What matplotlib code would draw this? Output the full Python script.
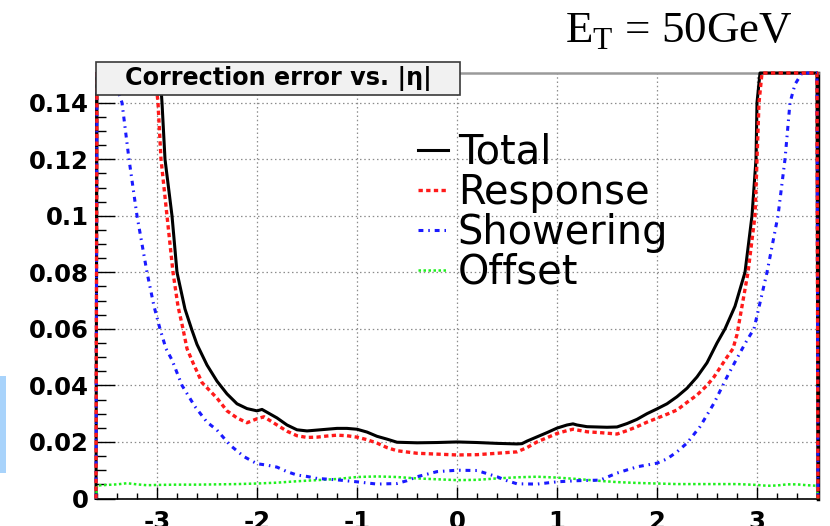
import numpy as np
import matplotlib
matplotlib.use("Agg")
import matplotlib.pyplot as plt
from matplotlib.patches import Rectangle
from matplotlib.ticker import MultipleLocator

plt.rcParams["font.family"] = ["DejaVu Sans"]

# ---------------- data ----------------
eta_total = [-3.61, -3.60, -3.0, -2.97, -2.95, -2.92, -2.85, -2.80, -2.72, -2.65, -2.6, -2.5,
             -2.4, -2.3, -2.2, -2.1, -2.0, -1.95, -1.9, -1.8, -1.7, -1.6, -1.5, -1.4, -1.3,
             -1.2, -1.1, -1.0, -0.9, -0.8, -0.7, -0.6, -0.5, -0.4, -0.2, 0.0, 0.2, 0.4, 0.6,
             0.65, 0.7, 0.8, 0.9, 1.0, 1.1, 1.16, 1.2, 1.3, 1.4, 1.5, 1.6, 1.7, 1.8, 1.9,
             2.0, 2.1, 2.2, 2.3, 2.4, 2.5, 2.6, 2.68, 2.78, 2.88, 2.95, 2.99, 3.0, 3.03,
             3.60, 3.61]
total = [0.0, 0.30, 0.20, 0.16, 0.14, 0.12, 0.10, 0.08, 0.067, 0.0595, 0.0545, 0.0472,
         0.0415, 0.037, 0.0335, 0.0318, 0.031, 0.0315, 0.0305, 0.0285, 0.026, 0.0243, 0.0239,
         0.0242, 0.0245, 0.0248, 0.0248, 0.0245, 0.0235, 0.022, 0.021, 0.0199, 0.0198,
         0.0197, 0.0198, 0.0200, 0.0198, 0.0195, 0.0193, 0.0194, 0.0203, 0.0218, 0.0233,
         0.0249, 0.026, 0.0264, 0.026, 0.0254, 0.0253, 0.0252, 0.0253, 0.0265, 0.028,
         0.030, 0.0317, 0.0335, 0.036, 0.039, 0.043, 0.048, 0.055, 0.060, 0.068, 0.080,
         0.100, 0.120, 0.140, 0.16, 0.30, 0.0]

eta_resp = [-3.61, -3.60, -3.02, -2.99, -2.96, -2.90, -2.84, -2.79, -2.74, -2.70, -2.64,
            -2.55, -2.4, -2.3, -2.2, -2.1, -2.0, -1.93, -1.8, -1.7, -1.6, -1.5, -1.4, -1.3,
            -1.2, -1.1, -1.0, -0.9, -0.8, -0.7, -0.6, -0.4, -0.2, 0.0, 0.2, 0.4, 0.6, 0.7,
            0.8, 0.9, 1.0, 1.1, 1.16, 1.3, 1.43, 1.6, 1.7, 1.8, 1.9, 2.0, 2.1, 2.2, 2.3,
            2.4, 2.5, 2.57, 2.7, 2.76, 2.80, 2.85, 2.91, 2.98, 3.0, 3.02, 3.05, 3.60, 3.61]
response = [0.0, 0.30, 0.16, 0.14, 0.12, 0.10, 0.08, 0.068, 0.060, 0.053, 0.048, 0.041,
            0.0355, 0.031, 0.0285, 0.0268, 0.0282, 0.0289, 0.026, 0.0238, 0.0222, 0.0216,
            0.0217, 0.0221, 0.0224, 0.0222, 0.0217, 0.0208, 0.0196, 0.018, 0.0169, 0.016,
            0.0157, 0.0154, 0.0155, 0.016, 0.0165, 0.018, 0.020, 0.0215, 0.023, 0.024,
            0.0245, 0.0236, 0.0233, 0.0228, 0.024, 0.0254, 0.027, 0.0284, 0.0298, 0.0313,
            0.034, 0.0366, 0.040, 0.043, 0.050, 0.053, 0.058, 0.068, 0.08, 0.10, 0.12,
            0.14, 0.16, 0.30, 0.0]

eta_show = [-3.61, -3.60, -3.45, -3.35, -3.28, -3.20, -3.10, -3.03, -2.97, -2.91, -2.85,
            -2.75, -2.62, -2.5, -2.4, -2.27, -2.13, -2.0, -1.9, -1.8, -1.7, -1.6, -1.5,
            -1.4, -1.2, -1.0, -0.8, -0.6, -0.5, -0.4, -0.2, 0.0, 0.2, 0.4, 0.5, 0.6, 0.8,
            1.0, 1.2, 1.43, 1.6, 1.8, 2.0, 2.1, 2.2, 2.3, 2.43, 2.57, 2.7, 2.8, 2.9, 2.97,
            3.10, 3.21, 3.28, 3.33, 3.38, 3.45, 3.60, 3.61]
showering = [0.0, 0.25, 0.16, 0.14, 0.12, 0.10, 0.08, 0.068, 0.060, 0.053, 0.049, 0.040,
             0.0325, 0.027, 0.0242, 0.0189, 0.0148, 0.0123, 0.0118, 0.0111, 0.0095, 0.0083,
             0.0078, 0.0071, 0.0066, 0.0059, 0.0051, 0.0053, 0.0063, 0.0077, 0.0095, 0.0100,
             0.0099, 0.0077, 0.0063, 0.0052, 0.0051, 0.0059, 0.0063, 0.0065, 0.009, 0.0112,
             0.0125, 0.014, 0.0165, 0.0196, 0.0254, 0.0337, 0.043, 0.0496, 0.056, 0.060,
             0.08, 0.10, 0.12, 0.14, 0.1465, 0.16, 0.25, 0.0]

eta_off = [-3.61, -3.6, -3.5, -3.4, -3.3, -3.2, -3.1, -3.0, -2.8, -2.6, -2.4, -2.2, -2.0,
           -1.8, -1.6, -1.4, -1.2, -1.0, -0.8, -0.6, -0.4, -0.2, 0.0, 0.2, 0.4, 0.6, 0.8,
           1.0, 1.2, 1.4, 1.6, 1.8, 2.0, 2.2, 2.4, 2.6, 2.8, 3.0, 3.1, 3.2, 3.3, 3.4, 3.5,
           3.6, 3.61]
offset = [0.0, 0.0046, 0.0048, 0.0050, 0.0054, 0.0050, 0.0047, 0.0048, 0.0049, 0.0049,
          0.0050, 0.0051, 0.0053, 0.0056, 0.0061, 0.0065, 0.0069, 0.0076, 0.0078, 0.0076,
          0.0071, 0.0068, 0.0065, 0.0066, 0.0071, 0.0075, 0.0077, 0.0074, 0.0069, 0.0063,
          0.0058, 0.0055, 0.0053, 0.0051, 0.0051, 0.0051, 0.0051, 0.0048, 0.0045, 0.0046,
          0.0050, 0.0050, 0.0047, 0.0045, 0.0]

labels = ["Total", "Response", "Showering", "Offset"]
title = "Correction error vs. |η|"
energy_label = r"E$_\mathregular{T}$ = 50GeV"
xticks = [-3, -2, -1, 0, 1, 2, 3]
yticks = [0, 0.02, 0.04, 0.06, 0.08, 0.1, 0.12, 0.14]
ytick_labels = ["0", "0.02", "0.04", "0.06", "0.08", "0.1", "0.12", "0.14"]

XMIN, XMAX = -3.61, 3.61
YMIN, YMAX = 0.0, 0.1505

# ---------------- figure ----------------
fig = plt.figure(figsize=(8.30, 5.26), dpi=100)
ax = fig.add_axes([96 / 830, 27.5 / 526, 722 / 830, 425.5 / 526])
ax.set_xlim(XMIN, XMAX)
ax.set_ylim(YMIN, YMAX)

def clip(v):
    return np.minimum(np.asarray(v, dtype=float), YMAX)

l_tot, = ax.plot(eta_total, clip(total), color="black", lw=2.2, clip_on=False,
                 solid_joinstyle="round", zorder=3)
l_off, = ax.plot(eta_off, clip(offset), color="#1ef01e", lw=1.8, clip_on=False,
                 dashes=(1.0, 1.0), zorder=3.5)
l_show, = ax.plot(eta_show, clip(showering), color="#1a1aff", lw=2.2, clip_on=False,
                  dashes=(1.6, 1.6, 0.5, 1.6), zorder=4)
l_resp, = ax.plot(eta_resp, clip(response), color="#ff1a1a", lw=2.4, clip_on=False,
                  dashes=(1.3, 1.0), zorder=5)

# ticks and grid
ax.set_xticks(xticks)
ax.set_xticklabels([str(t) for t in xticks], fontweight="bold")
ax.set_yticks(yticks)
ax.set_yticklabels(ytick_labels, fontweight="bold")
ax.xaxis.set_minor_locator(MultipleLocator(0.2))
ax.yaxis.set_minor_locator(MultipleLocator(0.005))
ax.tick_params(axis="both", which="major", labelsize=17.6)
ax.tick_params(axis="x", which="major", direction="in", length=9, width=1.0, pad=8.0,
               top=False)
ax.tick_params(axis="x", which="minor", direction="in", length=4.5, width=1.0, top=False)
ax.tick_params(axis="y", which="major", direction="in", length=14, width=1.0, pad=5,
               right=False)
ax.tick_params(axis="y", which="minor", direction="in", length=7, width=1.0, right=False)

ax.grid(True, which="major", color="#8c8c8c", lw=0.9, dashes=(1.2, 2.2))
ax.set_axisbelow(True)

for side in ["left", "bottom"]:
    ax.spines[side].set_color("black")
    ax.spines[side].set_linewidth(1.2)
ax.spines["right"].set_color("black")
ax.spines["right"].set_linewidth(2.5)
ax.spines["top"].set_color("#9a9a9a")
ax.spines["top"].set_linewidth(1.8)

# legend
leg = fig.legend([l_tot, l_resp, l_show, l_off], labels, loc="upper left",
                 bbox_to_anchor=(418 / 830, (526 - 133) / 526), frameon=False,
                 borderpad=0, borderaxespad=0, handlelength=0.75, handletextpad=0.25,
                 labelspacing=0.0, prop={"family": "DejaVu Sans", "size": 28.7})

# title box
fig.patches.append(Rectangle((96 / 830, (526 - 95) / 526), 364 / 830, 33 / 526,
                             transform=fig.transFigure, facecolor="#f1f1f1",
                             edgecolor="#3a3a3a", lw=1.2, zorder=5))
fig.text(278 / 830, (526 - 78.5) / 526, title, ha="center", va="center",
         family=["DejaVu Sans"], weight="bold", fontsize=17.2, zorder=6)

# energy label
fig.text(565 / 830, (526 - 43) / 526, energy_label, ha="left", va="baseline",
         family="Liberation Serif", fontsize=32.4)

# light blue strip at the left edge
fig.patches.append(Rectangle((0, (526 - 473) / 526), 6 / 830, 97 / 526,
                             transform=fig.transFigure, facecolor="#a8d3fb",
                             edgecolor="none", zorder=1))

fig.savefig("out.png", dpi=100, facecolor="white")
